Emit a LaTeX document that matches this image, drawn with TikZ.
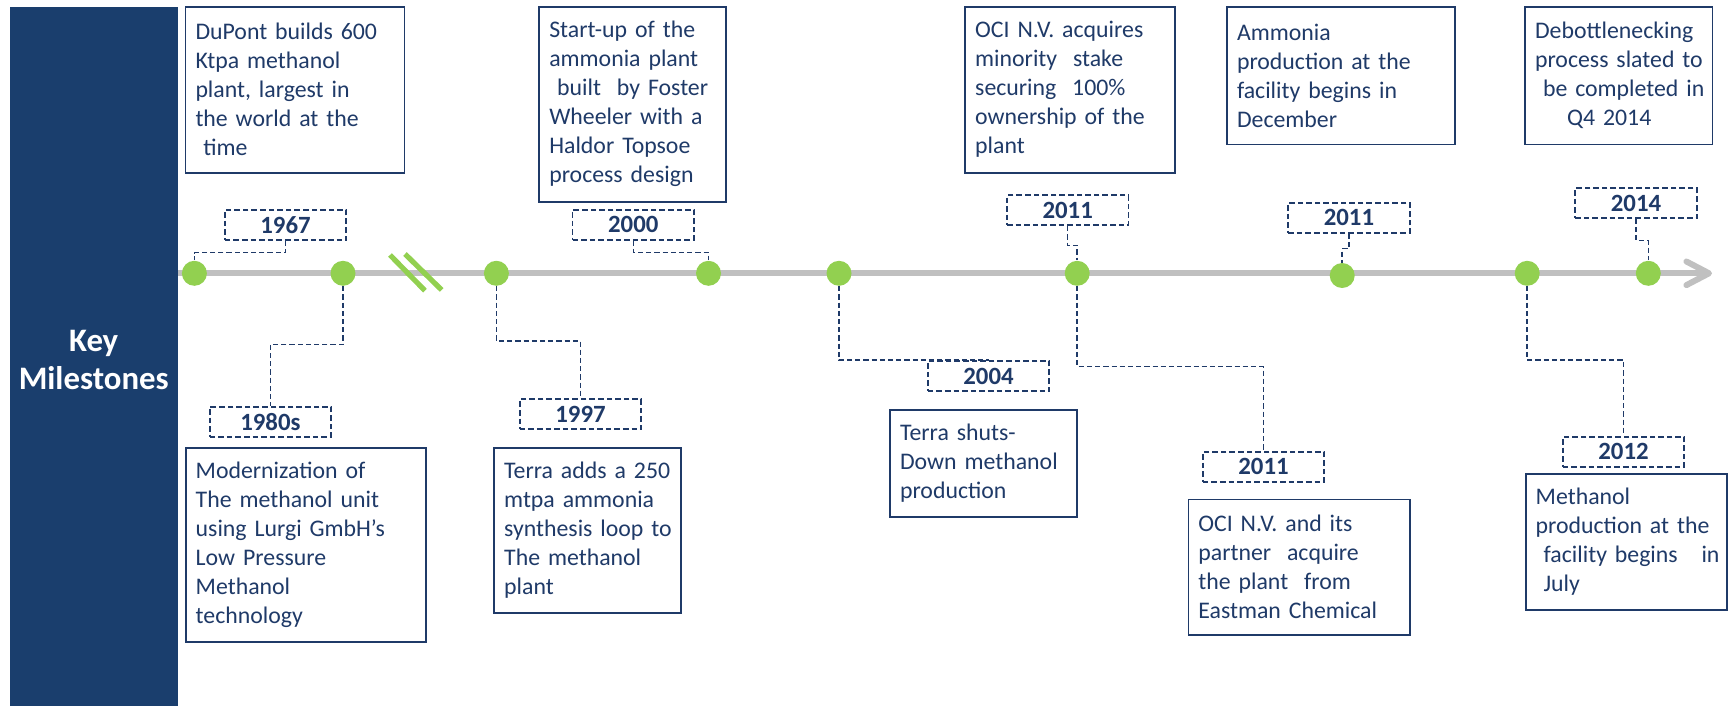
\documentclass[tikz,border=0pt]{standalone}
\usepackage{fontspec}
\setmainfont{Carlito}
\usetikzlibrary{calc}
\definecolor{navy}{HTML}{1F3A68}
\definecolor{panel}{HTML}{1A3E6D}
\definecolor{mgreen}{HTML}{92D050}
\definecolor{lgray}{HTML}{C0C0C0}
\newcommand{\ml}[1]{\mbox{#1}}
\tikzset{
  mbox/.style={draw=navy, line width=0.85pt, text=navy, fill=white,
    font=\fontsize{11.9}{14.5}\selectfont, align=left, inner xsep=5pt, inner ysep=0pt},
  ybox/.style={draw=navy, line width=0.85pt, dash pattern=on 2.8pt off 1.5pt, fill=white,
    minimum width=60.75pt, minimum height=15pt, inner sep=0pt, text=navy,
    font=\bfseries\fontsize{12.4}{13}\selectfont},
  conn/.style={draw=navy, line width=0.75pt, dash pattern=on 2.6pt off 1.5pt},
  dotn/.style={circle, fill=mgreen, minimum size=12.5pt, inner sep=0pt},
  tline/.style={draw=lgray, line width=3pt},
  brk/.style={draw=mgreen, line width=2.6pt},
}
\begin{document}
\begin{tikzpicture}[x=0.5pt,y=-0.5pt]
\useasboundingbox (0,0) rectangle (1733,706);
% side panel
\fill[panel] (9.6,6.7) rectangle (178,706);
\node[text=white, font=\bfseries\fontsize{16.4}{19}\selectfont, align=center] (key) at (93.7,360) {Key\\Milestones};
% timeline
\coordinate (tl0) at (178,273.3);
\coordinate (tl1) at (1709,273.3);
\coordinate (ah1) at (1686.4,261.5);
\coordinate (ah2) at (1686.4,285.1);
\draw[tline] (tl0) -- (tl1);
\draw[tline, line cap=round, line join=round] (ah1) -- (tl1) -- (ah2);
% break marks
\coordinate (b1a) at (390,255); \coordinate (b1b) at (425,290.7);
\coordinate (b2a) at (405,254); \coordinate (b2b) at (441.7,290);
\draw[brk] (b1a) -- (b1b);
\draw[brk] (b2a) -- (b2b);
% dots
\node[dotn] (d1967) at (194.4,273.3) {};
\node[dotn] (d1980) at (343,273.3) {};
\node[dotn] (d1997) at (496.4,273.3) {};
\node[dotn] (d2000) at (708.5,273.3) {};
\node[dotn] (d2004) at (839,273.3) {};
\node[dotn] (d2011a) at (1077.2,273.3) {};
\node[dotn] (d2011b) at (1342.2,275.5) {};
\node[dotn] (d2012) at (1527.2,273.3) {};
\node[dotn] (d2014) at (1648.3,273.3) {};
% top description boxes
\node[mbox, text width=99.5pt, minimum height=83pt] (t1) at (295,89.7)
 {\ml{DuPont builds 600}\\\ml{Ktpa methanol}\\\ml{plant, largest in}\\\ml{the world at the}\\\ml{\ time}};
\node[mbox, text width=83.5pt, minimum height=97.5pt] (t2) at (632.8,104.2)
 {\ml{Start-up of the}\\\ml{ammonia plant}\\\ml{\ built\ \ by Foster}\\\ml{Wheeler with a}\\\ml{Haldor Topsoe}\\\ml{process design}};
\node[mbox, text width=94.9pt, minimum height=83pt] (t3) at (1070.1,89.7)
 {\ml{OCI N.V. acquires}\\\ml{minority\ \ stake}\\\ml{securing\ \ 100\%}\\\ml{ownership of the}\\\ml{plant}};
\node[mbox, text width=104pt, minimum height=68.9pt] (t4) at (1341,75.6)
 {\ml{Ammonia}\\\ml{production at the}\\\ml{facility begins in}\\\ml{December}};
\node[mbox, text width=83.65pt, minimum height=68.9pt] (t5) at (1618.7,75.6)
 {\ml{Debottlenecking}\\\ml{process slated to}\\\ml{\ be completed in}\\\ml{\hspace*{16pt}Q4 2014}};
% bottom description boxes
\node[mbox, text width=110.3pt, minimum height=97pt] (b1) at (306,544.7)
 {\ml{Modernization of}\\\ml{The methanol unit}\\\ml{using Lurgi GmbH’s}\\\ml{Low Pressure}\\\ml{Methanol}\\\ml{technology}};
\node[mbox, text width=83.3pt, minimum height=82.5pt] (b2) at (587.5,530.2)
 {\ml{Terra adds a 250}\\\ml{mtpa ammonia}\\\ml{synthesis loop to}\\\ml{The methanol}\\\ml{plant}};
\node[mbox, text width=83.35pt, minimum height=53.35pt] (b3) at (983.4,463.4)
 {\ml{Terra shuts-}\\\ml{Down methanol}\\\ml{production}};
\node[mbox, text width=100.85pt, minimum height=67.85pt] (b4) at (1299.2,567.2)
 {\ml{OCI N.V. and its}\\\ml{partner\ \ acquire}\\\ml{the plant\ \ from}\\\ml{Eastman Chemical}};
\node[mbox, text width=90.8pt, minimum height=68pt] (b5) at (1626.5,542)
 {\ml{Methanol}\\\ml{production at the}\\\ml{\ facility begins\ \ \ in}\\\ml{\ July}};
% year boxes
\node[ybox] (y1967) at (285.5,225) {1967};
\node[ybox] (y2000) at (633.3,224.7) {2000};
\node[ybox] (y2011a) at (1067.7,210.3) {2011};
\node[ybox] (y2011b) at (1348.9,217.8) {2011};
\node[ybox] (y2014) at (1636,203) {2014};
\node[ybox] (y1980) at (270.4,421.7) {1980s};
\node[ybox] (y1997) at (580.5,414.2) {1997};
\node[ybox] (y2004) at (988.5,376) {2004};
\node[ybox] (y2011c) at (1263.5,466.7) {2011};
\node[ybox] (y2012) at (1623.5,451.7) {2012};
% connectors
\draw[conn] (y1967.south) -- ++(0,11.7) -| (d1967);
\draw[conn] (y2000.south) -- ++(0,11.7) -| (d2000);
\draw[conn] (y2011a.south) -- ++(0,19.3) -| (d2011a);
\draw[conn] (y2011b.south) -- ++(0,15) -| (d2011b);
\draw[conn] (y2014.south) -- ++(0,21.7) -| (d2014);
\draw[conn] (d1980) -- ++(0,71) -| (y1980.north);
\draw[conn] (d1997) -- ++(0,67.7) -| (y1997.north);
\draw[conn] (d2004) |- (y2004.north);
\draw[conn] (d2011a) -- ++(0,93.4) -| (y2011c.north);
\draw[conn] (d2012) -- ++(0,86.7) -| (y2012.north);
\end{tikzpicture}
\end{document}
